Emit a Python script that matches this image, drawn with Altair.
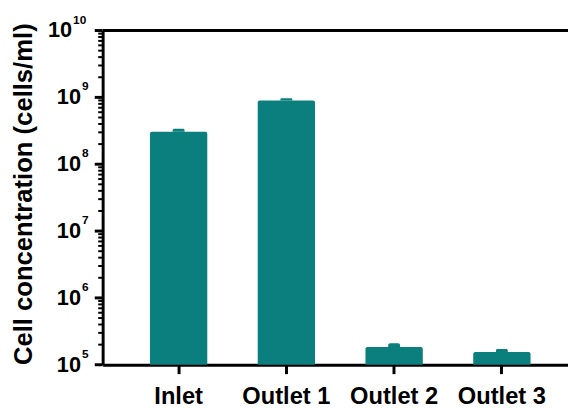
import altair as alt
import pandas as pd

categories = ["Inlet", "Outlet 1", "Outlet 2", "Outlet 3"]
values = [3.05e8, 9.0e8, 1.84e5, 1.55e5]
upper = [3.4e8, 9.7e8, 2.1e5, 1.72e5]
major_ticks = [1e5, 1e6, 1e7, 1e8, 1e9, 1e10]
exponents = ["5", "6", "7", "8", "9", "10"]
minor_multipliers = [2, 3, 4, 5, 6, 7, 8, 9]

TEAL = "#0b7f7d"
FONT = "Liberation Sans"
W, H = 482, 339

df = pd.DataFrame({"cat": categories, "value": values, "upper": upper})
ticks_df = pd.DataFrame({"tick": major_ticks, "exp": exponents, "base": ["10"] * len(major_ticks)})

minor_values = []
for t in major_ticks[:-1]:
    for m in minor_multipliers:
        minor_values.append(float(m * t))
minor_df = pd.DataFrame({"tick": minor_values})

yscale = alt.Scale(type="log", domain=[1e5, 1e10], nice=False)
xscale = alt.Scale(paddingInner=0.468, paddingOuter=0.439, round=False)

yaxis_main = alt.Axis(
    values=major_ticks,
    labels=False,
    ticks=False,
    domainWidth=3,
    domainColor="black",
    grid=False,
    title="Cell concentration (cells/ml)",
    titleFont=FONT,
    titleFontSize=26,
    titleFontWeight="bold",
    titleColor="black",
    titleX=-67,
    titleY=H / 2 - 4,
)

xaxis = alt.Axis(
    labelAngle=0,
    labelFont=FONT,
    labelFontSize=24,
    labelFontWeight="bold",
    labelColor="black",
    labelPadding=11,
    tickSize=9,
    tickWidth=3,
    tickColor="black",
    domainWidth=3,
    domainColor="black",
    title=None,
)

base = alt.Chart(df)

bars = base.mark_bar(color=TEAL, cornerRadiusTopLeft=2, cornerRadiusTopRight=2).encode(
    x=alt.X("cat:N", sort=categories, scale=xscale, axis=xaxis),
    y=alt.Y("value:Q", scale=yscale, axis=yaxis_main),
    y2=alt.datum(1e5),
)

err = base.mark_bar(color=TEAL, width=12, cornerRadiusTopLeft=2, cornerRadiusTopRight=2).encode(
    x=alt.X("cat:N", sort=categories),
    y=alt.Y("upper:Q", axis=None),
    y2="value:Q",
)

top_line = alt.Chart(pd.DataFrame({"v": [major_ticks[-1]]})).mark_rule(
    color="black", strokeWidth=3
).encode(
    y=alt.Y("v:Q", axis=None),
    x=alt.value(0),
    x2=alt.value(W),
)

major_tick_rules = alt.Chart(ticks_df).mark_rule(color="black", strokeWidth=3).encode(
    y=alt.Y("tick:Q", axis=None), x=alt.value(-8), x2=alt.value(0)
)
minor_tick_rules = alt.Chart(minor_df).mark_rule(color="black", strokeWidth=2).encode(
    y=alt.Y("tick:Q", axis=None), x=alt.value(-4.5), x2=alt.value(0)
)

tick_chart = alt.Chart(ticks_df)
lab_base = tick_chart.transform_filter("datum.tick < 1e10").mark_text(
    font=FONT, fontSize=22, fontWeight="bold", align="right", baseline="middle", color="black"
).encode(y=alt.Y("tick:Q", axis=None), x=alt.value(-22), text="base:N")
lab_exp = tick_chart.transform_filter("datum.tick < 1e10").mark_text(
    font=FONT, fontSize=12, fontWeight="bold", align="left", baseline="middle", color="black", dy=-11
).encode(y=alt.Y("tick:Q", axis=None), x=alt.value(-21), text="exp:N")
lab_base_top = tick_chart.transform_filter("datum.tick >= 1e10").mark_text(
    font=FONT, fontSize=22, fontWeight="bold", align="right", baseline="middle", color="black"
).encode(y=alt.Y("tick:Q", axis=None), x=alt.value(-31), text="base:N")
lab_exp_top = tick_chart.transform_filter("datum.tick >= 1e10").mark_text(
    font=FONT, fontSize=12, fontWeight="bold", align="left", baseline="middle", color="black", dy=-11
).encode(y=alt.Y("tick:Q", axis=None), x=alt.value(-30), text="exp:N")

chart = (
    alt.layer(
        bars, err, top_line, major_tick_rules, minor_tick_rules,
        lab_base, lab_exp, lab_base_top, lab_exp_top,
    )
    .resolve_axis(y="independent")
    .properties(
        width=W,
        height=H,
        autosize=alt.AutoSizeParams(type="none"),
        padding={"left": 96, "top": 20, "right": -10, "bottom": 41},
    )
    .configure_view(stroke=None)
)

chart.save("out.html", embed_options={"renderer": "svg", "actions": False})
